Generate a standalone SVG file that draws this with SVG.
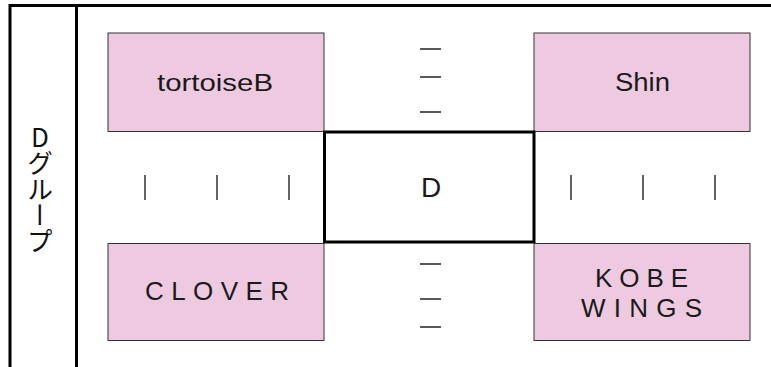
<svg xmlns="http://www.w3.org/2000/svg" width="771" height="367" viewBox="0 0 771 367">
<style>
.frame{stroke:#000;stroke-width:3;fill:none}
.pink{fill:#edcae0;stroke:#333;stroke-width:1}
.center{fill:#fff;stroke:#000;stroke-width:3}
.lbl{font-family:"Liberation Sans",Arial,sans-serif;fill:#1a1a1a;text-anchor:middle}
.tick{stroke:#222;stroke-width:1.4}
.vt{font-family:"Noto Sans CJK JP",sans-serif;font-size:26px;fill:#111;writing-mode:vertical-rl;text-orientation:upright}
</style>
<rect width="771" height="367" fill="#fff"/>
<g id="frame">
<path class="frame" d="M8.5 5.5H771M10 5.5V367M76.5 5.5V367"/>
<text class="vt" x="40" y="124">Dグループ</text>
</g>
<g id="connectors">
<path class="tick" d="M420 49H441M420 77H441M420 112H441M420 264H441M420 299H441M420 327H441"/>
<path class="tick" d="M145 175V200M217 175V200M289 175V200M571 175V200M643 175V200M715 175V200"/>
</g>
<g id="tortoiseB">
<rect class="pink" x="108" y="33" width="216" height="98.5"/>
<text class="lbl" x="215" y="91" font-size="24" textLength="116" lengthAdjust="spacingAndGlyphs">tortoiseB</text>
</g>
<g id="Shin">
<rect class="pink" x="534" y="33" width="216" height="98.5"/>
<text class="lbl" x="642.5" y="91" font-size="25" textLength="55" lengthAdjust="spacingAndGlyphs">Shin</text>
</g>
<g id="D">
<rect class="center" x="324.5" y="132" width="209.5" height="110"/>
<text class="lbl" x="431" y="197" font-size="28">D</text>
</g>
<g id="CLOVER">
<rect class="pink" x="108" y="243.5" width="216" height="97"/>
<text class="lbl" x="217" y="300" font-size="26" textLength="144" lengthAdjust="spacing">CLOVER</text>
</g>
<g id="KOBE_WINGS">
<rect class="pink" x="534" y="243.5" width="216" height="97"/>
<text class="lbl" x="641.5" y="287" font-size="26" textLength="93" lengthAdjust="spacing">KOBE</text>
<text class="lbl" x="641.5" y="317" font-size="26" textLength="121" lengthAdjust="spacing">WINGS</text>
</g>
</svg>
